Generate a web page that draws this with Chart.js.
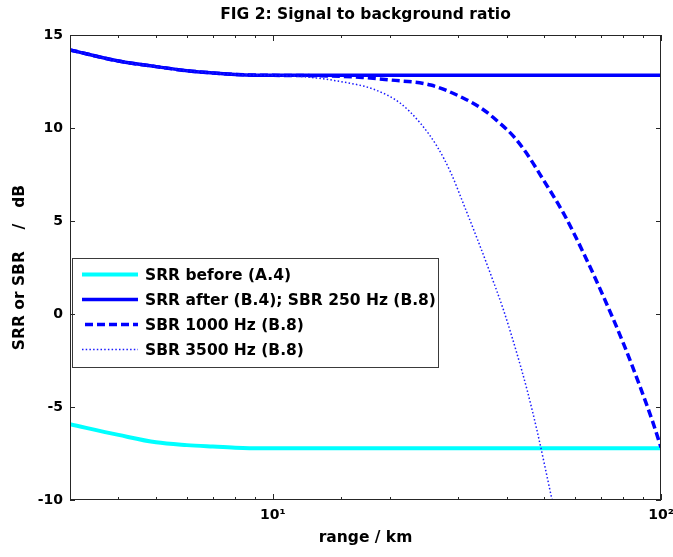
<!DOCTYPE html>
<html lang="en">
<head>
<meta charset="UTF-8" />
<title>FIG 2: Signal to background ratio</title>
<style>
  html, body { margin: 0; padding: 0; background: #fff; }
  #wrap { width: 673px; height: 557px; position: relative; }
</style>
</head>
<body>

<div id="wrap"><canvas id="sbrChart"></canvas></div>

<script src="https://cdn.jsdelivr.net/npm/chart.js"></script>
<script>
// range / km and dB values
const rangeBefore = [3, 4, 5, 6, 7, 8, 9.3, 12, 20, 50, 100];
const srrBefore   = [-5.93, -6.5, -6.9, -7.05, -7.13, -7.19, -7.22, -7.22, -7.22, -7.22, -7.22];

const rangeAfter = [3, 4, 5, 6, 7, 8, 10, 14, 20, 50, 100];
const srrAfter   = [14.2, 13.6, 13.3, 13.08, 12.96, 12.88, 12.83, 12.83, 12.83, 12.83, 12.83];

const range1000 = [3, 4, 5, 6, 7, 8, 10, 14, 17, 20.1, 25.5, 31, 34.5, 38, 41.7, 45, 49.8, 56.1, 63.2, 71.1, 80, 88.3, 95.5, 100];
const sbr1000   = [14.2, 13.6, 13.3, 13.08, 12.96, 12.88, 12.83, 12.8, 12.72, 12.58, 12.31, 11.6, 11.05, 10.35, 9.55, 8.65, 7.2, 5.41, 3.26, 0.93, -1.58, -3.9, -5.88, -7.18];

const range3500 = [3, 4, 5, 6, 7, 8, 10, 12, 15, 18.2, 21.3, 24, 26.5, 28.8, 31, 33.6, 36.3, 39.3, 42.5, 45.2, 47.9, 52.4];
const sbr3500   = [14.2, 13.6, 13.3, 13.08, 12.96, 12.88, 12.83, 12.76, 12.49, 12.08, 11.33, 10.25, 9.0, 7.55, 5.9, 4.05, 2.2, 0.2, -2.1, -4.1, -6.25, -10];

const seriesLabels = ['SRR before (A.4)', 'SRR after (B.4); SBR 250 Hz (B.8)', 'SBR 1000 Hz (B.8)', 'SBR 3500 Hz (B.8)'];

const xMajor = [10, 100];
const xMajorLabels = ['10\u00b9', '10\u00b2'];
const yTicks = [-10, -5, 0, 5, 10, 15];

const FONT = '"DejaVu Sans", sans-serif';

function pts(xs, ys) {
    return xs.map((x, i) => ({x: x, y: ys[i]}));
}

// inward ticks + box, like the original plot
const frameTicks = {
    id: 'frameTicks',
    afterDraw(chart) {
        const ctx = chart.ctx;
        const {left, right, top, bottom} = chart.chartArea;
        const xs = chart.scales.x, ys = chart.scales.y;
        ctx.save();
        ctx.strokeStyle = '#262626';
        ctx.lineWidth = 1;
        ctx.beginPath();
        xs.ticks.forEach(t => {
            const px = Math.round(xs.getPixelForValue(t.value)) + 0.5;
            const len = xMajor.includes(t.value) ? 6 : 3;
            ctx.moveTo(px, bottom); ctx.lineTo(px, bottom - len);
            ctx.moveTo(px, top); ctx.lineTo(px, top + len);
        });
        ys.ticks.forEach(t => {
            const py = Math.round(ys.getPixelForValue(t.value)) + 0.5;
            ctx.moveTo(left, py); ctx.lineTo(left + 5, py);
            ctx.moveTo(right, py); ctx.lineTo(right - 5, py);
        });
        ctx.stroke();
        ctx.strokeRect(Math.round(left) + 0.5, Math.round(top) + 0.5,
                       Math.round(right - left) - 1, Math.round(bottom - top) - 1);
        ctx.restore();
    }
};

// boxed legend inside the axes
const boxLegend = {
    id: 'boxLegend',
    afterDatasetsDraw(chart) {
        const ctx = chart.ctx;
        const bx = 72, by = 258, bw = 366, bh = 109;
        ctx.save();
        ctx.fillStyle = '#fff';
        ctx.fillRect(bx, by, bw, bh);
        ctx.strokeStyle = '#3a3a3a';
        ctx.lineWidth = 1;
        ctx.strokeRect(bx + 0.5, by + 0.5, bw, bh);
        chart.data.datasets.forEach((ds, i) => {
            const y = 274.5 + i * 25;
            ctx.strokeStyle = ds.borderColor;
            ctx.lineWidth = ds.borderWidth;
            ctx.setLineDash(ds.borderDash || []);
            ctx.beginPath();
            ctx.moveTo(ds.borderDash && ds.borderDash[0] > 4 ? 85 : 82, y);
            ctx.lineTo(138, y);
            ctx.stroke();
            ctx.setLineDash([]);
            ctx.fillStyle = '#000';
            ctx.font = 'bold 15.5px ' + FONT;
            ctx.textBaseline = 'middle';
            ctx.fillText(ds.label, 145, y + 1);
        });
        ctx.restore();
    }
};

const ctx = document.getElementById('sbrChart').getContext('2d');

new Chart(ctx, {
    type: 'line',
    data: {
        datasets: [{
            label: seriesLabels[0],
            data: pts(rangeBefore, srrBefore),
            borderColor: '#00ffff',
            borderWidth: 4,
            order: 3
        }, {
            label: seriesLabels[1],
            data: pts(rangeAfter, srrAfter),
            borderColor: '#0000ff',
            borderWidth: 3.5,
            order: 2
        }, {
            label: seriesLabels[2],
            data: pts(range1000, sbr1000),
            borderColor: '#0000ff',
            borderWidth: 3.5,
            borderDash: [8, 4],
            order: 1
        }, {
            label: seriesLabels[3],
            data: pts(range3500, sbr3500),
            borderColor: '#1a1aff',
            borderWidth: 1.5,
            borderDash: [1.5, 2.2],
            order: 0
        }]
    },
    options: {
        responsive: true,
        maintainAspectRatio: false,
        animation: false,
        events: [],
        layout: {padding: {top: 0, right: 12, bottom: 0, left: 0}},
        elements: {
            point: {radius: 0},
            line: {cubicInterpolationMode: 'monotone', fill: false}
        },
        plugins: {
            legend: {display: false},
            tooltip: {enabled: false},
            title: {
                display: true,
                fullSize: false,
                text: 'FIG 2: Signal to background ratio',
                color: '#000',
                font: {family: FONT, size: 15.5, weight: 'bold'},
                padding: {top: 6, bottom: 10.4}
            }
        },
        scales: {
            x: {
                type: 'logarithmic',
                min: 3,
                max: 100,
                grid: {display: false, drawTicks: false},
                border: {display: false},
                ticks: {
                    autoSkip: false,
                    maxRotation: 0,
                    padding: 7,
                    color: '#000',
                    font: {family: FONT, size: 14, weight: 'bold'},
                    callback: (v) => {
                        const k = xMajor.indexOf(v);
                        return k >= 0 ? xMajorLabels[k] : '';
                    }
                },
                title: {
                    display: true,
                    text: 'range / km',
                    color: '#000',
                    font: {family: FONT, size: 15.5, weight: 'bold'},
                    padding: {top: 0, bottom: 10.2}
                },
                afterFit: (s) => { s.height = 57; s.paddingLeft = 0; s.paddingRight = 0; }
            },
            y: {
                min: -10,
                max: 15,
                grid: {display: false, drawTicks: false},
                border: {display: false},
                afterBuildTicks: (s) => { s.ticks = yTicks.map(v => ({value: v})); },
                ticks: {
                    padding: 7,
                    color: '#000',
                    font: {family: FONT, size: 14, weight: 'bold'}
                },
                title: {
                    display: true,
                    text: 'SRR or SBR    /   dB',
                    color: '#000',
                    font: {family: FONT, size: 15.5, weight: 'bold'},
                    padding: {top: 10.7, bottom: 0}
                },
                afterFit: (s) => { s.width = 70; s.paddingTop = 0; s.paddingBottom = 0; }
            }
        }
    },
    plugins: [frameTicks, boxLegend]
});
</script>

</body>
</html>
